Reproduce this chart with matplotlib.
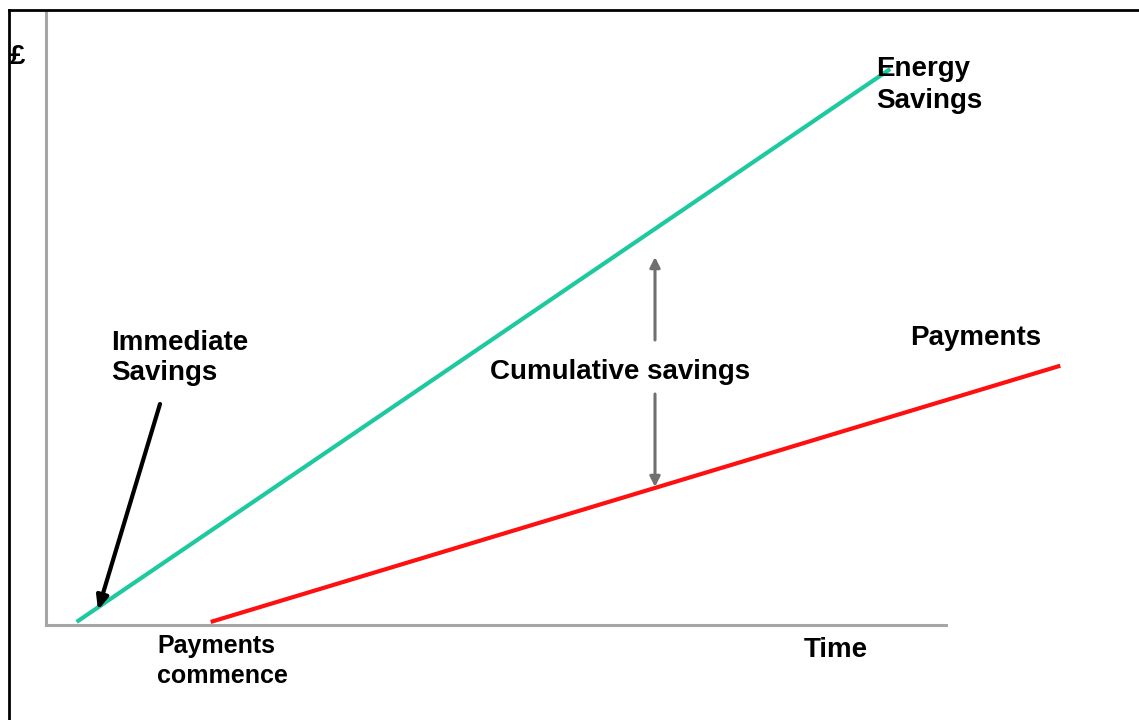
import matplotlib
matplotlib.use("Agg")
import matplotlib.pyplot as plt
from matplotlib.lines import Line2D

plt.rcParams['font.family'] = ['Liberation Sans', 'DejaVu Sans']

# schematic values (time on x, cumulative £ on y, both 0-100)
energy_time = [3.4, 93.8]
energy_gbp = [0.5, 90.7]
payment_time = [18.3, 112.7]
payment_gbp = [0.5, 42.3]

GREEN = '#1fc9a0'
RED = '#ff1010'
AXIS_GREY = '#a6a6a6'

W, H = 1139, 720
fig = plt.figure(figsize=(W / 100, H / 100), dpi=100)
ax = fig.add_axes([46 / W, (H - 625) / H, 900 / W, 613 / H])
ax.set_xlim(0, 100)
ax.set_ylim(0, 100)

ax.plot(energy_time, energy_gbp, color=GREEN, lw=3, solid_capstyle='butt', clip_on=False)
ax.plot(payment_time, payment_gbp, color=RED, lw=3, solid_capstyle='butt', clip_on=False)

for s in ['top', 'right']:
    ax.spines[s].set_visible(False)
for s in ['left', 'bottom']:
    ax.spines[s].set_color(AXIS_GREY)
    ax.spines[s].set_linewidth(2.2)
ax.set_xticks([])
ax.set_yticks([])

def px(x, y):
    # helper: pixel position -> data coordinates
    return ((x - 46) / 9.0, (625 - y) / 6.13)

bold = dict(fontweight='bold', color='black', clip_on=False)

ax.text(*px(876, 85), 'Energy\nSavings', fontsize=20, ha='left', va='center',
        linespacing=1.25, **bold)
ax.text(*px(910, 338), 'Payments', fontsize=20, ha='left', va='center', **bold)
ax.text(*px(111, 358), 'Immediate\nSavings', fontsize=20, ha='left', va='center',
        linespacing=1.25, **bold)
ax.text(*px(490, 372), 'Cumulative savings', fontsize=20, ha='left', va='center', **bold)
ax.text(*px(157, 661), 'Payments\ncommence', fontsize=18, ha='left', va='center',
        linespacing=1.33, **bold)
ax.text(*px(804, 650), 'Time', fontsize=20, ha='left', va='center', **bold)
ax.text(*px(10, 57), '£', fontsize=20, ha='left', va='center', **bold)

# immediate savings arrow
ax.annotate('', xy=px(98, 610), xytext=px(160, 404),
            arrowprops=dict(arrowstyle='-|>,head_length=0.8,head_width=0.35',
                            color='black', lw=3, shrinkA=0, shrinkB=0))
# cumulative savings arrows
ax.annotate('', xy=px(655, 257), xytext=px(655, 340),
            arrowprops=dict(arrowstyle='-|>,head_length=0.6,head_width=0.3',
                            color='#707070', lw=2.2, shrinkA=0, shrinkB=0))
ax.annotate('', xy=px(655, 487), xytext=px(655, 394),
            arrowprops=dict(arrowstyle='-|>,head_length=0.6,head_width=0.3',
                            color='#707070', lw=2.2, shrinkA=0, shrinkB=0))

# frame lines (top and left only)
fig.add_artist(Line2D([8.5 / W, 1.0], [1 - 9.5 / H, 1 - 9.5 / H], color='black', lw=2,
                      transform=fig.transFigure))
fig.add_artist(Line2D([8.5 / W, 8.5 / W], [0, 1 - 9.5 / H], color='black', lw=2,
                      transform=fig.transFigure))

fig.savefig('out.png', dpi=100)
